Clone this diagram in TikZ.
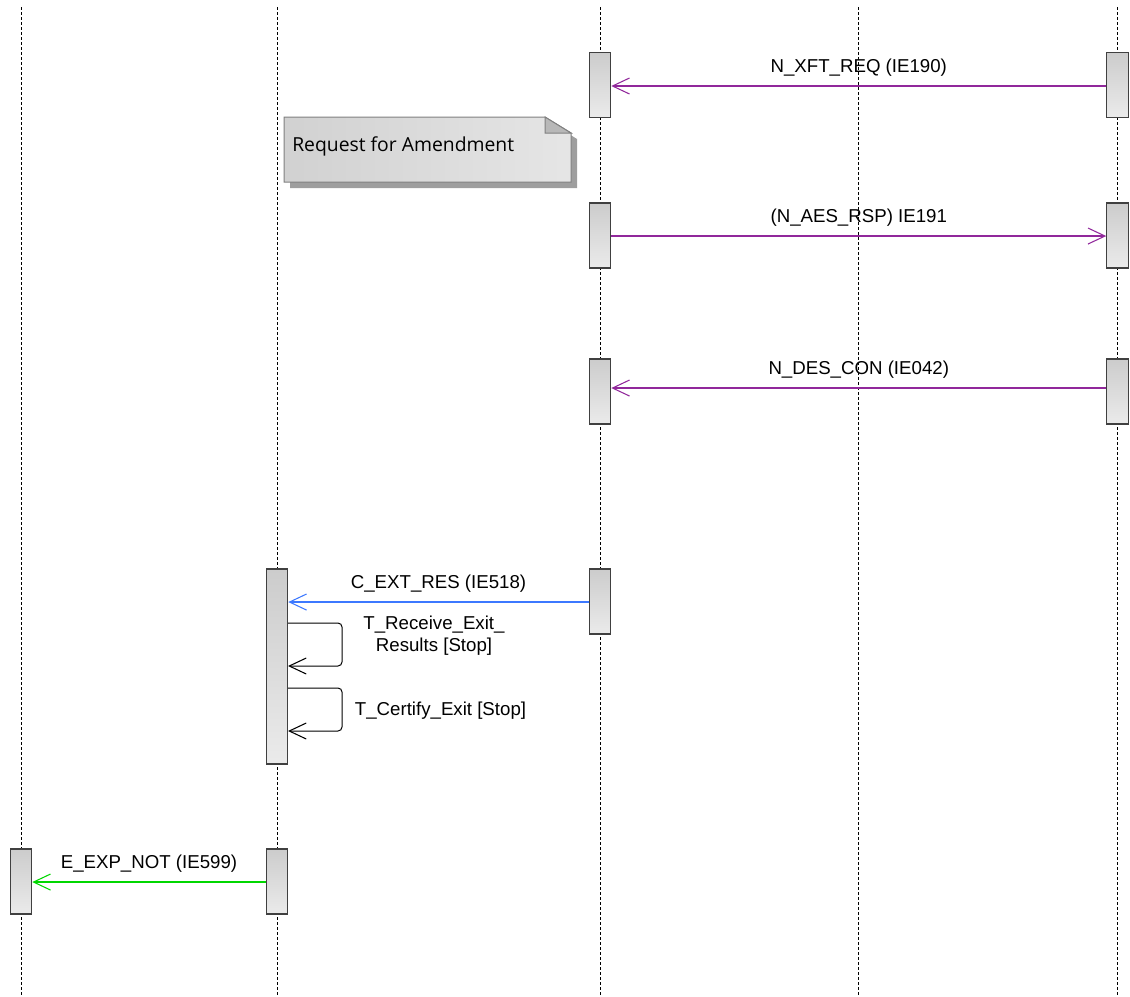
\documentclass[tikz,border=0pt]{standalone}
\usepackage{fontspec}
\setmainfont{Liberation Sans}
\newfontfamily\notefont{Open Sans}
\usetikzlibrary{arrows.meta,calc}
\definecolor{pc}{RGB}{145,40,155}
\definecolor{bc}{RGB}{60,120,255}
\definecolor{gc}{RGB}{0,215,0}
\tikzset{life/.style={line width=.75pt,dash pattern=on 2.25pt off 1.5pt},
 act/.style={draw=black!75,line width=.9pt,top color=black!20,bottom color=black!8,minimum width=16pt,minimum height=48.75pt,inner sep=0pt},
 tall/.style={act,minimum height=146.25pt},
 msg/.style={line width=1.4pt,-{Straight Barb[length=12.75pt,width=12pt,line width=.8pt]}},
 self/.style={msg,line width=.75pt,rounded corners=3pt},
 lbl/.style={inner sep=0pt,align=center,text=black},
 mlbl/.style={lbl,anchor=base,yshift=10.5pt},
 every node/.style={font=\fontsize{14}{16.5}\selectfont}}
\begin{document}
\begin{tikzpicture}[x=.75pt,y=-.75pt]
\useasboundingbox (0,0) rectangle (1130,996);
% lifelines
\foreach \n/\x in {l1/21,l2/277,l3/600,l4/858,l5/1117.5}{\coordinate (\n t) at (\x,7);\coordinate (\n b) at (\x,996);\draw[life] (\n t)--(\n b);}
% note
\fill[black!38] (290,123) -- (551,123) -- (577,139) -- (577,188) -- (290,188) -- cycle;
\shadedraw[left color=black!18,right color=black!10,draw=black!50,line width=.75pt] (284,117) -- (545,117) -- (571,133) -- (571,182) -- (284,182) -- cycle;
\filldraw[fill=black!28,draw=black!50,line width=.75pt] (545,117) -- (545,133) -- (571,133) -- cycle;
\node[lbl,anchor=base west,font=\notefont\fontsize{14.5}{17}\selectfont] (rq) at (292,151) {Request for Amendment};
% activations
\node[act] (a1) at (600,85) {};\node[act] (a2) at (1117.5,85) {};
\node[act] (a3) at (600,235.5) {};\node[act] (a4) at (1117.5,235.5) {};
\node[act] (a5) at (600,391.5) {};\node[act] (a6) at (1117.5,391.5) {};
\node[tall] (a7) at (277,666.5) {};\node[act] (a8) at (600,601.5) {};
\node[act] (a9) at (21,881.5) {};\node[act] (a10) at (277,881.5) {};
% messages
\draw[msg,pc] ([yshift=-.75pt]a2.west) -- node[mlbl]{N\_XFT\_REQ (IE190)} ([yshift=-.75pt]a1.east);
\draw[msg,pc] ([yshift=-.4pt]a3.east) -- node[mlbl]{(N\_AES\_RSP) IE191} ([yshift=-.4pt]a4.west);
\draw[msg,pc] ([yshift=2.6pt]a6.west) -- node[mlbl]{N\_DES\_CON (IE042)} ([yshift=2.6pt]a5.east);
\draw[msg,bc] ([yshift=-.4pt]a8.west) -- node[mlbl]{C\_EXT\_RES (IE518)} ([yshift=-.4pt]a7.east|-a8);
\draw[msg,gc] ([yshift=-.4pt]a10.west) -- node[mlbl]{E\_EXP\_NOT (IE599)} ([yshift=-.4pt]a9.east);
% self calls
\coordinate (s1a) at (288,623);\coordinate (s1b) at (288,666);
\coordinate (s2a) at (288,688);\coordinate (s2b) at (288,731);
\draw[self] (s1a) -- ++(54,0) |- (s1b);
\draw[self] (s2a) -- ++(54,0) |- (s2b);
\node[lbl] (t1) at (434,636) {T\_Receive\_Exit\_\\Results [Stop]};
\node[lbl] (t2) at (440.5,711) {T\_Certify\_Exit [Stop]};
\end{tikzpicture}
\end{document}
